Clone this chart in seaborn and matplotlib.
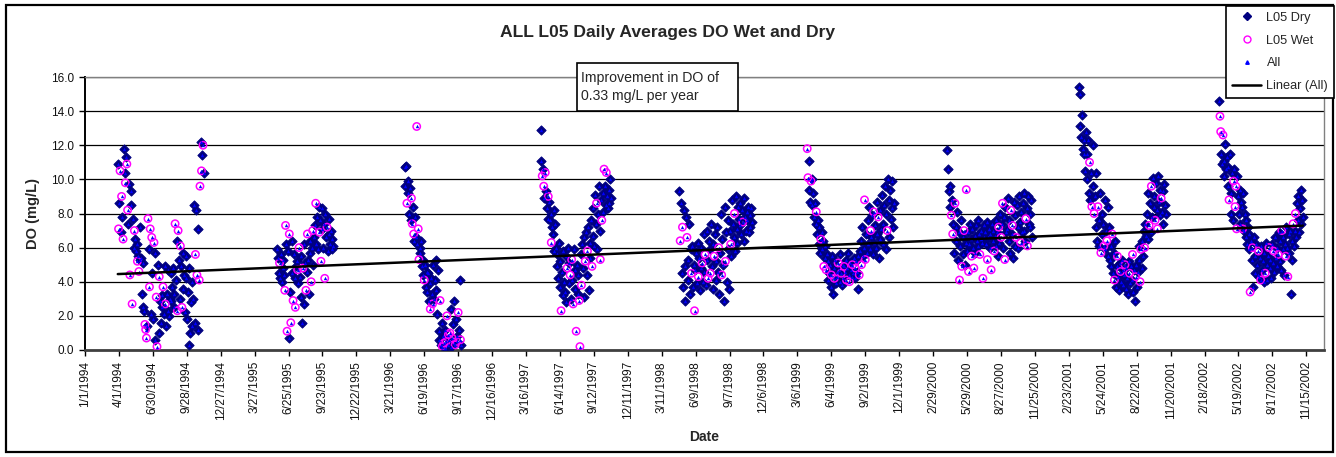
import numpy as np
import pandas as pd
import matplotlib
matplotlib.use("Agg")
import matplotlib.pyplot as plt
from matplotlib.lines import Line2D
from matplotlib.patches import Rectangle
import seaborn as sns

# ---------------- text ----------------
TITLE = "ALL L05 Daily Averages DO Wet and Dry"
Y_LABEL = "DO (mg/L)"
X_LABEL = "Date"
NOTE = "Improvement in DO of\n0.33 mg/L per year"
series_names = ["L05 Dry", "L05 Wet", "All", "Linear (All)"]

# ---------------- data (DO mg/L, one reading every 2 days from the season start) ----------------
# flags: D = dry-weather day, W = wet-weather day
step_days = 2

start_1994 = "1994-03-29"
do_1994 = [10.9, 7.1, 8.6, 10.5, 6.9, 9.0, 7.8, 6.5, 11.8, 10.4,
           9.8, 11.3, 10.9, 8.2, 7.4, 9.7, 4.4, 8.5, 9.3, 2.7,
           7.7, 6.0, 7.0, 6.5, 5.8, 6.2, 5.2, 5.5, 4.6, 5.3,
           7.2, 5.4, 3.3, 5.1, 2.5, 2.3, 1.5, 1.2, 0.7, 1.4,
           7.7, 5.9, 3.7, 7.1, 2.1, 6.6, 4.5, 1.8, 6.3, 0.6,
           5.7, 3.1, 0.2, 5.0, 1.0, 4.3, 2.9, 1.6, 2.5, 3.2,
           3.7, 2.1, 4.9, 2.7, 1.4, 3.3, 4.7, 2.3, 2.0, 3.0,
           4.5, 2.9, 3.7, 4.8, 2.5, 3.3, 7.4, 4.1, 6.4, 2.3,
           7.0, 5.3, 3.0, 6.1, 4.9, 2.5, 5.7, 3.6, 4.4, 2.2,
           5.5, 4.2, 1.8, 3.4, 0.3, 4.8, 1.0, 2.8, 1.4, 4.0,
           3.0, 8.5, 1.6, 5.6, 8.2, 4.4, 7.1, 1.2, 4.1, 9.6,
           12.2, 10.5, 11.4, 12.0, 10.4]
flag_1994 = ("DWDWDWDWDD WDWWDDWDDW DDWDDDWDWD DDDDDDWWWD WDWWDWDDWD "
             "DWWDDWDDDD WDDWDDDDDD DDDDDDWDDW WDDWDWDDDD DDDDDDDDDD "
             "DDDWDWDDWW DWDWD")

start_1995 = "1995-05-26"
do_1995 = [5.9, 5.4, 4.5, 5.1, 4.2, 5.6, 4.0, 4.8, 5.3, 4.4,
           3.5, 7.3, 6.2, 1.1, 5.8, 0.7, 6.8, 3.4, 1.6, 6.4,
           4.5, 2.9, 5.6, 4.2, 2.5, 4.9, 5.2, 4.7, 3.9, 6.0,
           4.3, 5.5, 3.1, 1.6, 4.8, 6.2, 2.7, 5.1, 3.5, 4.6,
           6.8, 5.3, 3.3, 6.4, 5.7, 4.0, 6.0, 7.0, 5.0, 6.6,
           7.3, 8.6, 6.2, 7.8, 5.9, 8.4, 6.9, 7.6, 5.2, 7.1,
           8.3, 6.0, 7.4, 4.2, 8.0, 6.6, 7.2, 5.8, 6.8, 7.7,
           6.2, 7.0, 5.9, 6.5, 6.1]
flag_1995 = ("DDDWDDDDDD WWDWDDWDWD DWDDWDDWDW DDDDWDDDWD WDDDDWDWDD "
             "DWDDDDWDWD DDDWDDWDDD DDDDD")

start_1996 = "1996-04-28"
do_1996 = [10.7, 9.6, 10.8, 8.6, 9.9, 9.2, 8.0, 9.5, 7.6, 8.9,
           7.4, 8.4, 6.8, 6.4, 7.8, 6.6, 13.1, 6.2, 7.1, 5.3,
           6.0, 5.7, 6.4, 4.9, 5.3, 4.4, 4.1, 5.0, 3.7, 4.6,
           3.4, 4.5, 2.9, 3.9, 2.4, 4.2, 3.3, 2.7, 5.0, 3.0,
           4.1, 3.5, 5.3, 2.1, 4.7, 1.1, 0.6, 2.9, 0.3, 1.6,
           0.2, 0.8, 0.4, 1.2, 0.1, 0.5, 2.0, 0.3, 0.9, 0.6,
           1.0, 0.2, 2.4, 0.7, 1.5, 0.4, 2.9, 0.3, 1.8, 0.5,
           0.8, 2.2, 1.2, 4.1, 0.6, 0.3]
flag_1996 = ("DDDWDDDDDW WDWDDDWDWW DDDDDDWDDD DDDDWDDWDD DDDDDDDWDD "
             "WDWDDWWDWD WDDWDDDWDW DWDDWD")

start_1997 = "1997-04-24"
do_1997 = [12.9, 11.1, 10.2, 10.6, 9.6, 8.9, 10.4, 9.3, 8.3, 7.7,
           9.0, 8.7, 7.6, 8.0, 6.3, 7.2, 6.8, 8.2, 5.8, 7.4,
           6.0, 4.9, 5.6, 4.2, 6.3, 3.7, 5.2, 2.3, 4.6, 3.2,
           5.8, 4.0, 3.4, 5.5, 2.8, 4.8, 6.0, 3.9, 5.1, 4.4,
           3.0, 5.3, 4.1, 2.7, 5.9, 3.6, 4.7, 1.1, 5.0, 3.3,
           4.4, 2.9, 0.2, 5.6, 3.8, 6.2, 4.8, 3.1, 6.6, 5.2,
           6.9, 4.4, 5.8, 7.2, 3.5, 6.3, 5.4, 7.6, 4.9, 6.7,
           8.3, 6.1, 9.1, 7.4, 8.6, 5.9, 8.0, 9.6, 7.0, 5.3,
           8.8, 7.6, 9.2, 8.1, 10.6, 9.6, 8.5, 10.4, 9.0, 8.3,
           9.4, 8.6, 10.0, 8.9]
flag_1997 = ("DDWDWDWDDD WDDDWDDDDD DDDDDDDWDD DDDDDWDDDW DWDWDDDWDD "
             "DWWDWDDDDW DDWDDDDDWD DDDDWDDDDW DWDDWDDWDD DDDD")

start_1998 = "1998-04-27"
do_1998 = [9.3, 6.4, 8.6, 4.5, 7.2, 3.7, 8.2, 4.9, 2.9, 7.8,
           6.6, 5.3, 4.1, 7.4, 3.3, 5.9, 4.5, 6.1, 3.7, 5.0,
           2.3, 4.7, 5.7, 3.9, 6.3, 4.3, 5.4, 3.5, 4.8, 6.0,
           5.1, 4.0, 6.8, 4.6, 5.6, 3.8, 7.0, 5.3, 4.2, 6.4,
           5.9, 4.5, 7.4, 4.9, 6.2, 3.6, 5.5, 6.8, 4.1, 5.2,
           7.2, 4.6, 6.0, 3.3, 5.7, 8.0, 4.4, 6.5, 5.0, 2.9,
           8.4, 5.2, 6.9, 4.0, 7.6, 5.9, 3.6, 7.0, 6.2, 5.5,
           8.8, 7.4, 6.6, 8.0, 5.8, 9.0, 7.1, 6.3, 8.4, 7.7,
           7.3, 8.6, 6.8, 8.2, 7.5, 6.4, 8.9, 7.8, 7.0, 8.1,
           7.6, 8.4, 6.9, 7.9, 7.2, 8.3, 7.5]
flag_1998 = ("DWDDWDDDDD WDDDDDWDDD WDDDDWDDDD WDDDWDDDWD DWDDDDWDDD "
             "DDWDDDWDDD DWDDDDDDWD DDDWDDDDDD DDDDWDDDDD DDDDDDD")

start_1999 = "1999-04-01"
do_1999 = [11.8, 10.1, 9.4, 11.1, 8.7, 9.9, 10.0, 8.5, 9.2, 7.8,
           8.6, 7.4, 8.1, 6.8, 7.6, 6.2, 7.2, 5.7, 6.5, 6.9,
           5.9, 6.4, 4.9, 5.4, 6.1, 4.7, 5.6, 4.1, 5.2, 4.5,
           5.0, 3.7, 4.4, 5.5, 3.3, 4.8, 4.2, 5.3, 3.9, 4.6,
           4.3, 5.1, 4.7, 4.0, 5.6, 4.5, 3.8, 5.0, 4.2, 4.9,
           4.6, 5.3, 4.1, 4.8, 5.7, 4.4, 4.0, 5.1, 4.7, 4.3,
           5.0, 4.5, 5.4, 4.2, 4.8, 5.2, 4.6, 3.6, 5.5, 4.4,
           5.8, 6.4, 5.0, 7.2, 5.5, 6.0, 8.8, 5.3, 6.8, 5.7,
           7.6, 6.2, 8.4, 5.9, 7.0, 6.6, 7.9, 5.6, 8.1, 6.3,
           7.3, 6.0, 8.7, 6.8, 7.8, 5.4, 8.2, 6.5, 7.1, 9.1,
           7.4, 6.2, 8.5, 9.6, 5.9, 8.0, 7.0, 10.0, 6.6, 8.8,
           9.4, 7.7, 8.3, 9.9, 7.2, 8.6]
flag_1999 = ("WWDDDWDDDD DDWDDDDDWD DDWDDWDDDD DDWDDDWDDD DWDDDWDDDW "
             "DDWDDDWDDD WDDDWDDDDW DDWDDDWWDD DDDDWDDDWD DDDDWDDDDD "
             "DDDDDDWDDD DDDDDD")

start_2000 = "2000-04-07"
do_2000 = [11.7, 10.6, 9.3, 9.6, 8.4, 7.9, 8.8, 6.8, 7.4, 5.7,
           8.6, 7.2, 6.4, 8.1, 5.3, 6.9, 4.1, 6.1, 7.6, 4.9,
           5.6, 6.6, 7.0, 5.0, 6.3, 9.4, 5.8, 6.9, 4.6, 6.2,
           7.4, 6.5, 5.5, 7.1, 6.0, 4.8, 6.7, 5.7, 7.3, 6.4,
           6.1, 7.6, 6.8, 5.6, 6.5, 7.0, 6.3, 4.2, 6.6, 7.3,
           6.9, 6.2, 7.5, 5.3, 6.6, 7.1, 6.0, 6.8, 4.7, 7.4,
           6.4, 7.0, 5.8, 6.7, 7.6, 6.1, 6.9, 5.5, 7.2, 6.3,
           8.0, 6.6, 7.4, 8.6, 6.0, 7.8, 5.3, 8.4, 6.9, 7.1,
           8.9, 6.4, 7.6, 5.7, 8.2, 6.8, 7.3, 5.4, 8.7, 6.1,
           7.9, 6.6, 8.5, 7.2, 6.0, 9.0, 7.5, 6.3, 8.1, 6.9,
           8.6, 7.0, 9.2, 6.4, 7.7, 8.3, 6.1, 9.0, 7.4, 8.0,
           7.2, 8.8, 6.6]
flag_2000 = ("DDDDDWDWDD WDDDDDWDDW DDWDDWDDWD DDWDDWDDDD DDDWDDDWDD "
             "DDDWDDDDWD DDWDDDDDWD DWDWDDWDDD DDDDWDWDDD DWDDDDDWDD "
             "DDDDWDWDDD DDD")

start_2001 = "2001-03-22"
do_2001 = [15.4, 13.1, 15.0, 12.5, 13.8, 11.8, 12.3, 11.5, 10.5, 12.8,
           11.5, 10.0, 12.3, 9.2, 11.0, 8.8, 10.4, 8.4, 12.0, 9.6,
           8.0, 9.0, 7.2, 10.4, 6.4, 8.4, 7.6, 6.1, 9.2, 5.7,
           8.0, 6.8, 7.4, 6.1, 8.8, 5.9, 7.0, 6.4, 8.4, 5.5,
           7.2, 5.3, 6.1, 4.9, 6.8, 4.5, 5.7, 4.1, 6.4, 3.7,
           4.9, 5.5, 4.3, 3.5, 5.1, 4.6, 4.0, 5.3, 3.8, 4.7,
           4.4, 5.0, 3.6, 4.8, 4.2, 3.3, 5.2, 4.5, 3.9, 4.9,
           4.1, 5.6, 3.4, 4.7, 2.9, 4.3, 5.0, 3.7, 4.6, 6.1,
           5.3, 4.0, 5.9, 4.8, 6.4, 5.5, 7.0, 6.0, 7.4, 6.7,
           8.0, 6.5, 9.2, 7.3, 8.6, 6.9, 9.6, 7.8, 10.1, 8.4,
           9.0, 7.6, 9.8, 8.2, 7.1, 10.2, 8.7, 9.4, 7.9, 8.9,
           8.1, 9.3, 7.4, 9.7, 8.5, 8.0]
flag_2001 = ("DDDDDDDDDD DDDDWDDWDD WDDDDWDDDW DDDWDDDWDD DDDDWDDWDD "
             "DWDDDWDDDD DWDDDDDWDD DWDDDWDDDD DWWDDDDWDD DDDWDDWDDD "
             "DWDDWDDDDW DDDDDD")

start_2002 = "2002-03-29"
do_2002 = [14.6, 13.7, 12.8, 11.5, 10.9, 12.6, 11.1, 10.2, 12.1, 10.6,
           11.3, 9.6, 10.7, 8.8, 11.5, 9.2, 8.0, 10.4, 7.6, 9.9,
           10.6, 8.4, 9.6, 7.1, 10.2, 9.0, 8.0, 9.4, 7.4, 8.7,
           8.4, 7.1, 9.2, 7.0, 8.0, 6.6, 7.6, 6.2, 7.2, 5.9,
           6.8, 3.4, 6.4, 5.3, 6.0, 3.7, 6.6, 5.5, 4.5, 6.2,
           5.0, 4.4, 5.8, 4.3, 5.4, 4.1, 6.1, 4.7, 5.2, 4.0,
           5.7, 4.5, 6.3, 5.0, 4.1, 5.5, 6.0, 4.8, 5.3, 4.2,
           6.2, 5.1, 5.8, 4.6, 6.6, 5.4, 4.9, 6.0, 5.6, 6.9,
           5.2, 6.4, 4.7, 7.0, 5.9, 6.6, 4.4, 6.2, 5.5, 7.2,
           6.0, 4.3, 6.8, 5.7, 7.0, 3.3, 6.4, 5.3, 7.4, 6.1,
           7.0, 8.0, 6.6, 8.6, 7.6, 9.0, 6.9, 8.3, 7.4, 9.4,
           8.8, 7.8]
flag_2002 = ("DWWDDWDDDD DDDWDDDDDW DWWWDDDDDD DWDDDDDDDD DWDDWDDDDD "
             "DDWDDWDDDD DWDDDDWDDD DDWDDDDDWD DDDWDDDDWD DWDDDDDDWD "
             "DWDDDDDDDD DD")

# linear trend of "All"
trend_value_at_start = 4.45     # mg/L at first sample
trend_slope_per_year = 0.33     # mg/L per year

# axes
x_start, x_end = "1994-01-01", "2003-01-01"
x_tick_step_days = 90
x_tick_count = 37
y_ticks = [0, 2, 4, 6, 8, 10, 12, 14, 16]

# ---------------- assemble ----------------
seasons = [
    ("1994", start_1994, do_1994, flag_1994),
    ("1995", start_1995, do_1995, flag_1995),
    ("1996", start_1996, do_1996, flag_1996),
    ("1997", start_1997, do_1997, flag_1997),
    ("1998", start_1998, do_1998, flag_1998),
    ("1999", start_1999, do_1999, flag_1999),
    ("2000", start_2000, do_2000, flag_2000),
    ("2001", start_2001, do_2001, flag_2001),
    ("2002", start_2002, do_2002, flag_2002),
]
frames = []
for name, start, vals, flags in seasons:
    flags = flags.replace(" ", "")
    assert len(flags) == len(vals), f"{name}: {len(vals)} values vs {len(flags)} flags"
    dates = pd.Timestamp(start) + pd.to_timedelta(np.arange(len(vals)) * step_days, unit="D")
    frames.append(pd.DataFrame({"date": dates, "do": vals,
                                "kind": ["Wet" if f == "W" else "Dry" for f in flags]}))
df = pd.concat(frames, ignore_index=True)
dry = df[df["kind"] == "Dry"]
wet = df[df["kind"] == "Wet"]

t0, t1 = df["date"].min(), df["date"].max()
trend = pd.DataFrame({"date": [t0, t1],
                      "do": [trend_value_at_start,
                             trend_value_at_start + trend_slope_per_year * (t1 - t0).days / 365.25]})

# ---------------- draw ----------------
sns.set_theme(style="white")
plt.rcParams["font.family"] = ["Liberation Sans", "DejaVu Sans"]

W, H = 1336, 457
fig = plt.figure(figsize=(W / 100, H / 100), dpi=100)
ax = fig.add_axes([85 / W, 1 - 350 / H, (1324 - 85) / W, (350 - 77) / H])

NAVY, MAGENTA, BLUE = "#000080", "#FF00FF", "#0000FF"

sns.scatterplot(data=dry, x="date", y="do", marker="D", s=22, color=NAVY,
                edgecolor=NAVY, linewidth=0.7, ax=ax, zorder=3, legend=False)
sns.scatterplot(data=wet, x="date", y="do", marker="o", s=28, color=MAGENTA,
                ax=ax, zorder=4, legend=False)
wc = ax.collections[-1]
wc.set_facecolor("none")
wc.set_edgecolor(MAGENTA)
wc.set_linewidth(1.1)
sns.scatterplot(data=df, x="date", y="do", marker="^", s=6, color=BLUE,
                linewidth=0, ax=ax, zorder=5, legend=False)
sns.lineplot(data=trend, x="date", y="do", color="black", linewidth=1.8,
             ax=ax, zorder=6, legend=False)

ax.set_xlim(pd.Timestamp(x_start), pd.Timestamp(x_end))
ax.set_ylim(0, 16)
tick_dates = pd.Timestamp(x_start) + pd.to_timedelta(np.arange(x_tick_count) * x_tick_step_days, unit="D")
ax.set_xticks(tick_dates)
ax.set_xticklabels([f"{d.month}/{d.day}/{d.year}" for d in tick_dates], rotation=90)
ax.set_yticks(y_ticks)
ax.set_yticklabels([f"{v:.1f}" for v in y_ticks])
ax.set_xlabel("")
ax.set_ylabel("")

ax.set_axisbelow(True)
ax.yaxis.grid(True, color="black", linewidth=0.9)
ax.xaxis.grid(False)
ax.spines["left"].set_color("black")
ax.spines["left"].set_linewidth(1.4)
ax.spines["bottom"].set_color("#404040")
ax.spines["bottom"].set_linewidth(2.0)
for s in ("top", "right"):
    ax.spines[s].set_color("#808080")
    ax.spines[s].set_linewidth(1.0)
ax.tick_params(axis="both", direction="out", length=4, width=1, color="black",
               labelsize=8.5, labelcolor="#111111", pad=4)
ax.tick_params(axis="x", bottom=True)
ax.tick_params(axis="y", left=True)

# titles
fig.text(0.5, 1 - 33 / H, TITLE, ha="center", va="center", fontsize=12.6, fontweight="bold")
fig.text(33 / W, 1 - 213 / H, Y_LABEL, ha="center", va="center", rotation=90,
         fontsize=10.5, fontweight="bold")
fig.text(704 / W, 1 - 437 / H, X_LABEL, ha="center", va="center",
         fontsize=10, fontweight="bold")

# outer chart frame
fig.add_artist(Rectangle((6 / W, 5 / H), (1333 - 6) / W, (452 - 5) / H,
                         transform=fig.transFigure, fill=False, edgecolor="black",
                         linewidth=1.6, zorder=0.5))

# annotation box
fig.add_artist(Rectangle((577 / W, 1 - 111 / H), (738 - 577) / W, (111 - 63) / H,
                         transform=fig.transFigure, facecolor="white", edgecolor="black",
                         linewidth=1.2, zorder=2))
fig.text(581 / W, 1 - 87 / H, NOTE, ha="left", va="center", fontsize=10.2,
         linespacing=1.45, zorder=3)

# legend
handles = [
    Line2D([], [], marker="D", color=NAVY, linestyle="none", markersize=4.3),
    Line2D([], [], marker="o", markerfacecolor="none", markeredgecolor=MAGENTA,
           markeredgewidth=1.0, linestyle="none", markersize=5),
    Line2D([], [], marker="^", color=BLUE, linestyle="none", markersize=2.5),
    Line2D([], [], color="black", linewidth=1.8),
]
leg = fig.legend(handles, series_names, loc="upper right",
                 bbox_to_anchor=(1334 / W, 1 - 6 / H), frameon=True, fancybox=False,
                 edgecolor="black", facecolor="white", fontsize=9.2, borderpad=0.45,
                 labelspacing=0.85, handlelength=2.3, handletextpad=0.4,
                 borderaxespad=0, framealpha=1)
leg.get_frame().set_linewidth(1.2)

fig.savefig("out.png", dpi=100)
